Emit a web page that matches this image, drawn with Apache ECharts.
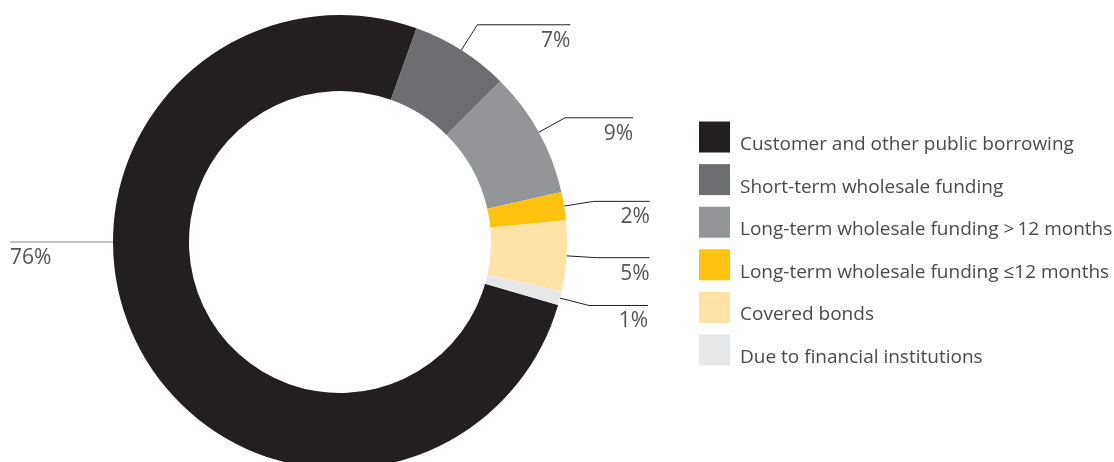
<!DOCTYPE html>
<html>
<head>
<meta charset="utf-8">
<script src="https://cdn.jsdelivr.net/npm/echarts@6/dist/echarts.min.js"></script>
<style>
    html, body { margin: 0; padding: 0; background: #fff; }
    #main { width: 1114px; height: 462px; }
</style>
</head>
<body>
<div id="main"></div>
<script>
// 数据
var categories = [
    'Customer and other public borrowing',
    'Short-term wholesale funding',
    'Long-term wholesale funding >\u200912 months',
    'Long-term wholesale funding \u226412 months',
    'Covered bonds',
    'Due to financial institutions'
];
var shares = [76, 7, 9, 2, 5, 1];
var colors = ['#231f20', '#6d6e71', '#939598', '#ffc20e', '#fee2a6', '#e6e7e8'];
// 引导线第二段长度
var lineLen2 = [103, 93, 68, 56, 53, 59];

var CX = 340, CY = 242, R0 = 151, R = 227;

var chart = echarts.init(document.getElementById('main'));

var seriesData = [];
for (var i = 0; i < categories.length; i++) {
    seriesData.push({
        name: categories[i],
        value: shares[i],
        itemStyle: { color: colors[i] },
        labelLine: {
            length: 30,
            length2: lineLen2[i],
            lineStyle: { color: i === 0 ? '#858585' : '#231f20' }
        }
    });
}

var option = {
    animation: false,
    legend: {
        orient: 'vertical',
        left: 699,
        top: 120,
        padding: 0,
        icon: 'rect',
        itemWidth: 31,
        itemHeight: 31,
        itemGap: 8.6,
        selectedMode: false,
        data: categories,
        formatter: function (name) {
            return '{a|' + name + '}';
        },
        textStyle: {
            rich: {
                a: {
                    fontFamily: 'Open Sans',
                    fontSize: 19,
                    color: '#4a4a4a',
                    lineHeight: 17,
                    padding: [15, 0, 0, 5]
                }
            }
        }
    },
    series: [
        {
            type: 'pie',
            center: [CX, CY],
            radius: [R0, R],
            startAngle: -16.1,
            clockwise: true,
            avoidLabelOverlap: false,
            label: {
                show: true,
                position: 'outside',
                formatter: '{c}%',
                fontFamily: 'Open Sans',
                fontSize: 21,
                color: '#555'
            },
            labelLine: {
                show: true,
                smooth: false,
                lineStyle: { width: 1 }
            },
            emphasis: { disabled: true },
            data: seriesData
        }
    ]
};

// 标签放在引导线下方
option.series[0].labelLayout = function (p) {
    var pts = p.labelLinePoints;
    if (!pts) return {};
    if (p.dataIndex === 0) {
        // 左侧水平引导线
        var sx = CX - R;
        pts = [[sx, CY], [sx - 50, CY], [sx - lineLen2[0], CY]];
        return {
            x: pts[2][0], y: CY + 16,
            align: 'left', verticalAlign: 'middle',
            labelLinePoints: pts
        };
    }
    return {
        x: pts[2][0], y: pts[2][1] + 16,
        align: 'right', verticalAlign: 'middle',
        labelLinePoints: pts
    };
};

chart.setOption(option);
</script>
</body>
</html>
